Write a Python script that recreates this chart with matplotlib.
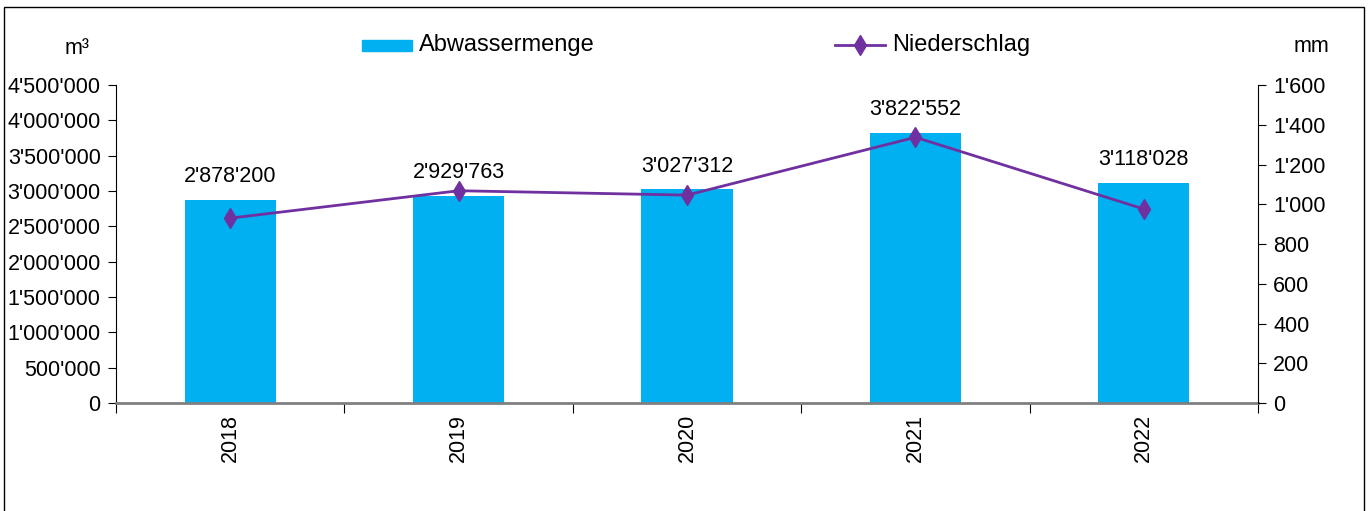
import matplotlib.pyplot as plt
from matplotlib.patches import Rectangle
from matplotlib.lines import Line2D
from matplotlib.ticker import FuncFormatter
import numpy as np

years = ["2018", "2019", "2020", "2021", "2022"]
abwasser = [2878200, 2929763, 3027312, 3822552, 3118028]
niederschlag = [930, 1068, 1046, 1337, 976]

plt.rcParams["font.family"] = ["Liberation Sans", "DejaVu Sans"]
plt.rcParams["font.size"] = 15.5

BLUE = "#00B0F0"
PURPLE = "#7030A0"


def swiss(v, pos=None):
    return f"{v:,.0f}".replace(",", "'")


fig = plt.figure(figsize=(13.7, 5.11), dpi=100)
W, H = 1370, 511
ax = fig.add_axes([116 / W, 108 / H, 1142 / W, 318 / H])
ax2 = ax.twinx()

x = np.arange(len(years))
ax.bar(x, abwasser, width=0.4, color=BLUE, zorder=2)
for xi, v in zip(x, abwasser):
    ax.annotate(swiss(v), (xi, v), xytext=(0, 9), textcoords="offset points",
                ha="center", va="bottom")

ax2.plot(x, niederschlag, color=PURPLE, lw=2, marker="d", ms=10, zorder=3)

ax.set_xlim(-0.5, len(years) - 0.5)
ax.set_ylim(0, 4500000)
ax.set_yticks(np.arange(0, 4500001, 500000))
ax.yaxis.set_major_formatter(FuncFormatter(swiss))
ax2.set_ylim(0, 1600)
ax2.set_yticks(np.arange(0, 1601, 200))
ax2.yaxis.set_major_formatter(FuncFormatter(swiss))

# year labels at centres, tick marks at category boundaries
ax.set_xticks(x)
ax.set_xticklabels(years, rotation=90)
ax.tick_params(axis="x", length=0, pad=8)
ax.set_xticks(np.arange(-0.5, len(years)), minor=True)
ax.tick_params(axis="x", which="minor", length=7, width=0.8)
ax.tick_params(axis="y", length=6, width=0.8, direction="out", pad=5)
ax2.tick_params(axis="y", length=6, width=0.8, direction="out", pad=5)

for a in (ax, ax2):
    a.spines["top"].set_visible(False)
ax.spines["right"].set_visible(False)
ax2.spines["left"].set_visible(False)
ax2.spines["bottom"].set_visible(False)
ax.spines["bottom"].set_color("#808080")
ax.spines["bottom"].set_linewidth(2)

fig.text(77 / W, 1 - 48 / H, "m³", ha="center", va="center")
fig.text(1311 / W, 1 - 46 / H, "mm", ha="center", va="center")

# legend, laid out like the original
fig.patches.append(Rectangle((362 / W, 1 - 51 / H), 50 / W, 11 / H,
                             transform=fig.transFigure, color=BLUE))
fig.text(419 / W, 1 - 45 / H, "Abwassermenge", ha="left", va="center", fontsize=17)
fig.lines.append(Line2D([835 / W, 885 / W], [1 - 45 / H, 1 - 45 / H],
                        transform=fig.transFigure, color=PURPLE, lw=2))
fig.lines.append(Line2D([860 / W], [1 - 45 / H], transform=fig.transFigure,
                        color=PURPLE, marker="d", ms=10))
fig.text(892 / W, 1 - 45 / H, "Niederschlag", ha="left", va="center", fontsize=17)

fig.patches.append(Rectangle((4 / W, -0.01), 1360 / W, 1 - 7 / H + 0.01,
                             transform=fig.transFigure, fill=False,
                             edgecolor="black", lw=1))

fig.savefig("out.png", dpi=100)
